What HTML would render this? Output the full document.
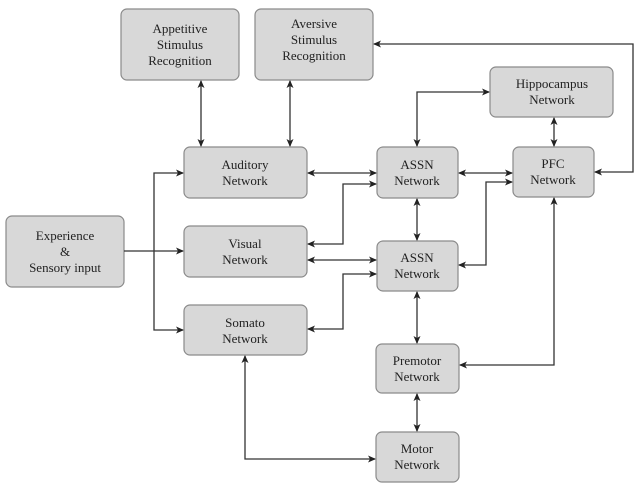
<!DOCTYPE html>
<html><head><style>
body{margin:0;background:#fff;}
svg{display:block}
text{font-family:"Liberation Serif",serif;font-size:13px;fill:#222;text-anchor:middle}
rect{fill:#d8d8d8;stroke:#8a8a8a;stroke-width:1.2}
.l{stroke:#333;stroke-width:1.3;fill:none}
</style></head><body>
<svg width="640" height="488" viewBox="0 0 640 488">
<defs><marker id="a" markerWidth="8" markerHeight="8" refX="7" refY="4" orient="auto-start-reverse" markerUnits="userSpaceOnUse"><path d="M0,0.5 L8,4 L0,7.5 L2,4 Z" fill="#222"/></marker></defs>
<g>
<rect x="121" y="9" width="118" height="71" rx="6"/>
<rect x="255" y="9" width="118" height="71" rx="6"/>
<rect x="184" y="147" width="123" height="51" rx="6"/>
<rect x="6" y="216" width="118" height="71" rx="6"/>
<rect x="184" y="226" width="123" height="51" rx="6"/>
<rect x="184" y="305" width="123" height="50" rx="6"/>
<rect x="377" y="147" width="81" height="51" rx="6"/>
<rect x="377" y="241" width="81" height="50" rx="6"/>
<rect x="490" y="67" width="123" height="50" rx="6"/>
<rect x="513" y="147" width="81" height="50" rx="6"/>
<rect x="376" y="344" width="83" height="49" rx="6"/>
<rect x="376" y="432" width="83" height="50" rx="6"/>
</g>
<g>
<text x="180" y="33">Appetitive</text><text x="180" y="49">Stimulus</text><text x="180" y="65">Recognition</text>
<text x="314" y="28">Aversive</text><text x="314" y="44">Stimulus</text><text x="314" y="60">Recognition</text>
<text x="245" y="169">Auditory</text><text x="245" y="185">Network</text>
<text x="65" y="240">Experience</text><text x="65" y="256">&amp;</text><text x="65" y="272">Sensory input</text>
<text x="245" y="248">Visual</text><text x="245" y="264">Network</text>
<text x="245" y="327">Somato</text><text x="245" y="343">Network</text>
<text x="417" y="169">ASSN</text><text x="417" y="185">Network</text>
<text x="417" y="262">ASSN</text><text x="417" y="278">Network</text>
<text x="552" y="88">Hippocampus</text><text x="552" y="104">Network</text>
<text x="553" y="168">PFC</text><text x="553" y="184">Network</text>
<text x="417" y="365">Premotor</text><text x="417" y="381">Network</text>
<text x="417" y="453">Motor</text><text x="417" y="469">Network</text>
</g>
<g class="l">
<path d="M201,81 V146" marker-start="url(#a)" marker-end="url(#a)"/>
<path d="M290,81 V146" marker-start="url(#a)" marker-end="url(#a)"/>
<path d="M124,251 H183" marker-end="url(#a)"/>
<path d="M183,173 H154 V330 H183" marker-start="url(#a)" marker-end="url(#a)"/>
<path d="M308,173 H376" marker-start="url(#a)" marker-end="url(#a)"/>
<path d="M376,184 H343 V244 H308" marker-start="url(#a)" marker-end="url(#a)"/>
<path d="M308,260 H376" marker-start="url(#a)" marker-end="url(#a)"/>
<path d="M376,274 H343 V329 H308" marker-start="url(#a)" marker-end="url(#a)"/>
<path d="M417,199 V240" marker-start="url(#a)" marker-end="url(#a)"/>
<path d="M459,173 H512" marker-start="url(#a)" marker-end="url(#a)"/>
<path d="M459,265 H486 V182 H512" marker-start="url(#a)" marker-end="url(#a)"/>
<path d="M417,146 V92 H489" marker-start="url(#a)" marker-end="url(#a)"/>
<path d="M554,118 V146" marker-start="url(#a)" marker-end="url(#a)"/>
<path d="M595,172 H633 V44 H374" marker-start="url(#a)" marker-end="url(#a)"/>
<path d="M554,198 V365 H460" marker-start="url(#a)" marker-end="url(#a)"/>
<path d="M417,292 V343" marker-start="url(#a)" marker-end="url(#a)"/>
<path d="M417,394 V431" marker-start="url(#a)" marker-end="url(#a)"/>
<path d="M245,356 V459 H375" marker-start="url(#a)" marker-end="url(#a)"/>
</g>
</svg>
</body></html>
